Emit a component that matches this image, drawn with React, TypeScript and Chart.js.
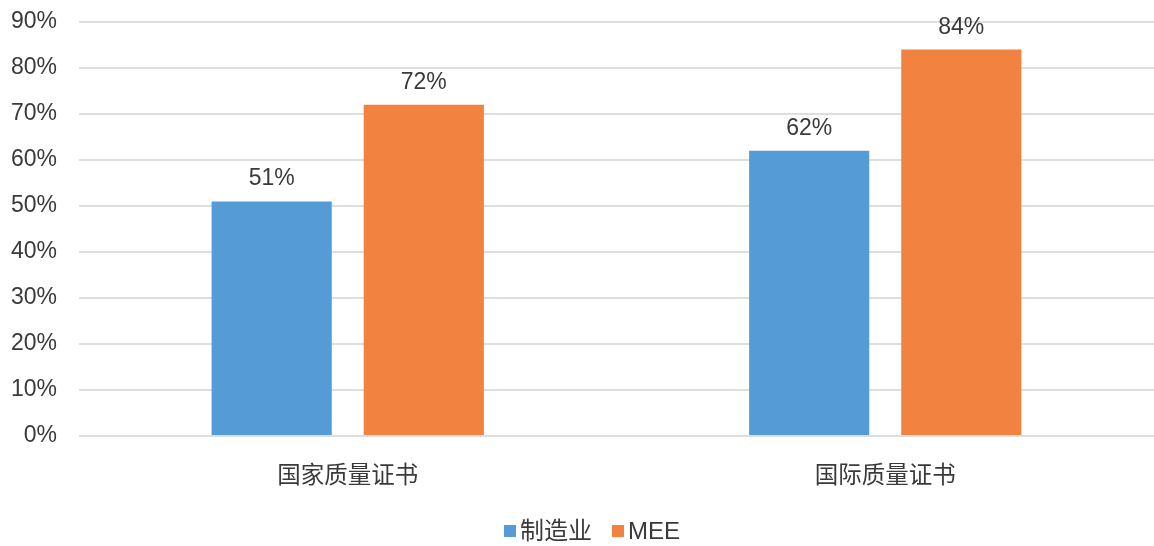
import React, { useEffect, useRef } from "react";
import { Chart, registerables } from "chart.js";

Chart.register(...registerables);

const categories = ["国家质量证书", "国际质量证书"];
const seriesNames = ["制造业", "MEE"];
const manufacturing = [51, 62];
const mee = [72, 84];
const yTicks = [0, 10, 20, 30, 40, 50, 60, 70, 80, 90];
const seriesColors = ["#559BD6", "#F2823F"];

const FONT = "'Liberation Sans', Arial, 'Noto Sans CJK SC', sans-serif";
const TEXT = "#3a3a3a";

const dataLabels = {
  id: "dataLabels",
  afterDatasetsDraw(chart: any) {
    const ctx = chart.ctx;
    ctx.save();
    ctx.font = `23px ${FONT}`;
    ctx.fillStyle = TEXT;
    ctx.textAlign = "center";
    ctx.textBaseline = "alphabetic";
    chart.data.datasets.forEach((ds: any, i: number) => {
      const meta = chart.getDatasetMeta(i);
      meta.data.forEach((bar: any, j: number) => {
        ctx.fillText(`${ds.data[j]}%`, bar.x, bar.y - 16);
      });
    });
    ctx.restore();
  },
};

const customLegend = {
  id: "customLegend",
  afterDraw(chart: any) {
    const ctx = chart.ctx;
    ctx.save();
    ctx.font = `24px ${FONT}`;
    ctx.textBaseline = "middle";
    const box = 12;
    const gapText = 4;
    const gapItem = 20;
    const items = chart.data.datasets.map((ds: any) => ({
      text: ds.label,
      color: ds.backgroundColor,
      w: ctx.measureText(ds.label).width,
    }));
    const total =
      items.reduce((s: number, it: any) => s + box + gapText + it.w, 0) +
      gapItem * (items.length - 1);
    let x = (chart.width - total) / 2 + 15;
    const y = 531;
    items.forEach((it: any) => {
      ctx.fillStyle = it.color;
      ctx.fillRect(x, y - box / 2, box, box);
      x += box + gapText;
      ctx.fillStyle = TEXT;
      ctx.textAlign = "left";
      ctx.fillText(it.text, x, y + 1);
      x += it.w + gapItem;
    });
    ctx.restore();
  },
};

export default function App() {
  const ref = useRef<HTMLCanvasElement>(null);
  useEffect(() => {
    if (!ref.current) return;
    const chart = new Chart(ref.current, {
      type: "bar",
      data: {
        labels: categories,
        datasets: [
          {
            label: seriesNames[0],
            data: manufacturing,
            backgroundColor: seriesColors[0],
            categoryPercentage: 0.566,
            barPercentage: 0.79,
          },
          {
            label: seriesNames[1],
            data: mee,
            backgroundColor: seriesColors[1],
            categoryPercentage: 0.566,
            barPercentage: 0.79,
          },
        ],
      },
      options: {
        animation: false,
        responsive: false,
        maintainAspectRatio: false,
        layout: { padding: { top: 22, right: 0, left: 0, bottom: 47 } },
        plugins: {
          tooltip: { enabled: false },
          legend: { display: false },
        },
        scales: {
          x: {
            grid: { display: false },
            border: { display: false },
            afterFit(scale: any) {
              scale.height = 63;
              scale.paddingLeft = 0;
              scale.paddingRight = 0;
            },
            ticks: {
              color: TEXT,
              font: { family: FONT, size: 23.5 },
              padding: 18,
            },
          },
          y: {
            min: 0,
            max: 90,
            afterBuildTicks(scale: any) {
              scale.ticks = yTicks.map((v) => ({ value: v }));
            },
            afterFit(scale: any) {
              scale.width = 79;
              scale.paddingTop = 0;
              scale.paddingBottom = 0;
            },
            grid: { color: "#dedede", lineWidth: 2, drawTicks: false },
            border: { display: false },
            ticks: {
              color: TEXT,
              font: { family: FONT, size: 23 },
              padding: 22,
              callback: (v: any) => `${v}%`,
            },
          },
        },
      },
      plugins: [dataLabels, customLegend],
    });
    return () => chart.destroy();
  }, []);
  return (
    <div style={{ position: "fixed", left: 0, top: 0, width: 1154, height: 546, background: "#fff" }}>
      <canvas ref={ref} width={1154} height={546} />
    </div>
  );
}
